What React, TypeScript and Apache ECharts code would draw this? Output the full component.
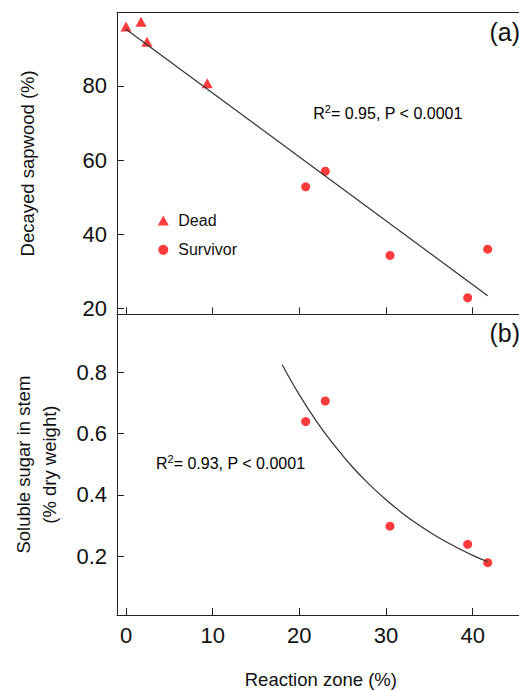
import React, { useEffect, useRef } from "react";
import * as echarts from "echarts";

const xTicks = [0, 10, 20, 30, 40];
const yTicksA = [20, 40, 60, 80];
const yTicksB = [0.2, 0.4, 0.6, 0.8];

const deadX = [0, 1.73, 2.42, 9.37];
const deadY = [96.0, 97.3, 91.9, 80.7];

const survX = [20.73, 22.99, 30.46, 39.42, 41.73];
const survDecay = [52.8, 57.0, 34.3, 22.9, 36.0];
const survSugar = [0.639, 0.706, 0.298, 0.239, 0.179];

const fitAX = [0, 41.73];
const fitAY = [95.3, 23.45];

const fitBX = [18, 20, 22, 24, 26, 28, 30, 32, 34, 36, 38, 40, 41.73];
const fitBY = [0.825, 0.726, 0.639, 0.563, 0.495, 0.436, 0.384, 0.338, 0.298, 0.262, 0.231, 0.203, 0.182];

const FONT = "'Liberation Sans', Arial, sans-serif";
const RED = "#ff3b3b";
const INK = "#111";
const AXIS = "#222";

const pairs = (xs: number[], ys: number[]) => xs.map((x, i) => [x, ys[i]]);

export default function App() {
  const ref = useRef<HTMLDivElement>(null);
  useEffect(() => {
    const chart = echarts.init(ref.current!, null, { renderer: "svg" });
    const axisLine = { show: true, onZero: false, lineStyle: { color: AXIS, width: 1 } };
    const tick = (vals: number[]) => ({ show: true, inside: true, length: 7, customValues: vals, lineStyle: { color: AXIS, width: 1 } });
    const labelStyle = { fontSize: 22, color: INK, fontFamily: FONT };
    const richR = {
      n: { fontSize: 16, lineHeight: 18, verticalAlign: "bottom", color: INK, fontFamily: FONT },
      s: { fontSize: 11, lineHeight: 8, verticalAlign: "top", color: INK, fontFamily: FONT },
    };
    chart.setOption({
      animation: false,
      backgroundColor: "#fff",
      textStyle: { fontFamily: FONT },
      grid: [
        { left: 117, top: 12.5, width: 407.7, height: 301.8, show: false },
        { left: 117, top: 314.3, width: 407.7, height: 303.7, show: false },
      ],
      xAxis: [
        {
          gridIndex: 0, type: "value", min: -1.04, max: 46,
          axisLine, axisTick: tick(xTicks), axisLabel: { show: false, customValues: xTicks }, splitLine: { show: false },
        },
        {
          gridIndex: 1, type: "value", min: -1.04, max: 46,
          axisLine, axisTick: tick(xTicks),
          axisLabel: { show: true, customValues: xTicks, margin: 9, ...labelStyle },
          splitLine: { show: false },
          name: "Reaction zone (%)", nameLocation: "middle", nameGap: 55,
          nameTextStyle: { fontSize: 18.5, color: INK, fontFamily: FONT },
        },
        {
          gridIndex: 0, type: "value", min: -1.04, max: 46, position: "top",
          axisLine, axisTick: { show: false }, axisLabel: { show: false }, splitLine: { show: false },
        },
      ],
      yAxis: [
        {
          gridIndex: 0, type: "value", min: 18.44, max: 99.8,
          axisLine, axisTick: tick(yTicksA),
          axisLabel: { show: true, customValues: yTicksA, margin: 10, ...labelStyle },
          splitLine: { show: false },
          name: "Decayed sapwood (%)", nameLocation: "middle", nameGap: 80,
          nameTextStyle: { fontSize: 18.5, color: INK, fontFamily: FONT },
        },
        {
          gridIndex: 1, type: "value", min: 0.0086, max: 0.9885,
          axisLine, axisTick: tick(yTicksB),
          axisLabel: { show: true, customValues: yTicksB, margin: 10, formatter: (v: number) => v.toFixed(1), ...labelStyle },
          splitLine: { show: false },
          name: "Soluble sugar in stem\n(% dry weight)", nameLocation: "middle", nameGap: 55,
          nameTextStyle: { fontSize: 18.5, lineHeight: 26, color: INK, fontFamily: FONT },
        },
      ],
      legend: {
        data: ["Dead", "Survivor"], orient: "vertical", left: 152.8, top: 207.5,
        itemWidth: 11, itemHeight: 10, itemGap: 13.3, selectedMode: false,
        textStyle: { fontSize: 16, lineHeight: 16, color: INK, fontFamily: FONT, padding: [0, 0, 0, 4.5] },
      },
      graphic: [
        { type: "text", x: 489.5, y: 31.5, style: { text: "(a)", fontSize: 25, fill: INK, fontFamily: FONT, verticalAlign: "middle", align: "left" } },
        { type: "text", x: 489.5, y: 332.5, style: { text: "(b)", fontSize: 25, fill: INK, fontFamily: FONT, verticalAlign: "middle", align: "left" } },
        { type: "text", x: 313.3, y: 112, style: { text: "{n|R}{s|2}{n|= 0.95, P < 0.0001}", rich: richR, verticalAlign: "middle", align: "left" } },
        { type: "text", x: 156, y: 462, style: { text: "{n|R}{s|2}{n|= 0.93, P < 0.0001}", rich: richR, verticalAlign: "middle", align: "left" } },
      ],
      series: [
        {
          name: "Dead", type: "scatter", xAxisIndex: 0, yAxisIndex: 0,
          symbol: "triangle", symbolSize: [11, 10], itemStyle: { color: RED, opacity: 1 },
          data: pairs(deadX, deadY),
        },
        {
          name: "Survivor", type: "scatter", xAxisIndex: 0, yAxisIndex: 0,
          symbol: "circle", symbolSize: 9, itemStyle: { color: RED, opacity: 1 },
          data: pairs(survX, survDecay),
        },
        {
          name: "Survivor", type: "scatter", xAxisIndex: 1, yAxisIndex: 1,
          symbol: "circle", symbolSize: 9, itemStyle: { color: RED, opacity: 1 },
          data: pairs(survX, survSugar),
        },
        {
          name: "fitA", type: "line", xAxisIndex: 0, yAxisIndex: 0, showSymbol: false, silent: true,
          lineStyle: { color: "#333", width: 1.2 }, data: pairs(fitAX, fitAY),
        },
        {
          name: "fitB", type: "line", xAxisIndex: 1, yAxisIndex: 1, showSymbol: false, silent: true,
          smooth: 0.4,
          lineStyle: { color: "#333", width: 1.2 }, data: pairs(fitBX, fitBY),
        },
      ],
    });
    return () => chart.dispose();
  }, []);
  return (
    <div style={{ position: "fixed", left: 0, top: 0, width: 519, height: 690, overflow: "hidden", background: "#fff" }}>
      <div ref={ref} style={{ width: 600, height: 690 }} />
    </div>
  );
}
